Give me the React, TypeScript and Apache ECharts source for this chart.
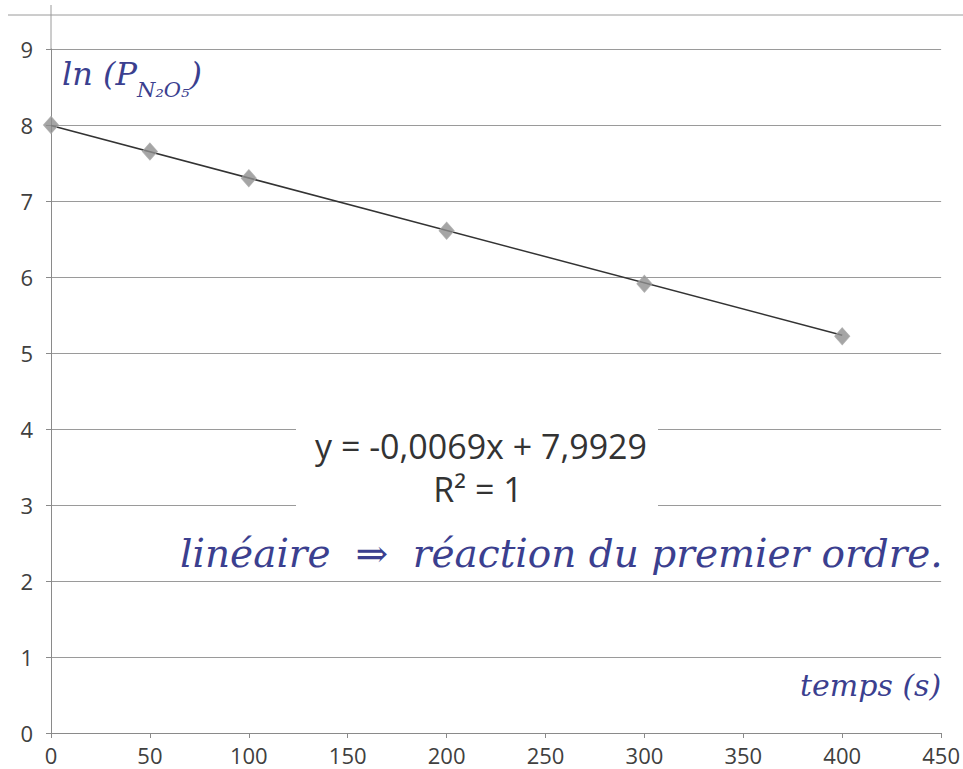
import React, { useEffect, useRef } from "react";
import * as echarts from "echarts";

const timeSeconds = [0, 50, 100, 200, 300, 400];
const lnPressure = [8.0, 7.65, 7.3, 6.61, 5.91, 5.22];
const trendX = [0, 400];
const trendY = [7.9929, 5.2329];
const xTicks = [0, 50, 100, 150, 200, 250, 300, 350, 400, 450];
const yTicks = [0, 1, 2, 3, 4, 5, 6, 7, 8, 9];
const equationText = "y = -0,0069x + 7,9929";
const r2Text = "R² = 1";
const yTitle = "ln (P";
const yTitleSub = "N₂O₅";
const noteText = "linéaire  ⇒  réaction du premier ordre.";
const xTitle = "temps (s)";

const INK = "#3b3f8f";
const HAND = "DejaVu Serif";
const SANS = "Open Sans";

export default function App() {
  const ref = useRef<HTMLDivElement>(null);
  useEffect(() => {
    const chart = echarts.init(ref.current!, null, { renderer: "svg" });
    chart.setOption({
      animation: false,
      backgroundColor: "#ffffff",
      grid: { left: 51, right: 18, top: 49, bottom: 36, containLabel: false },
      xAxis: {
        type: "value",
        min: xTicks[0],
        max: xTicks[xTicks.length - 1],
        interval: 50,
        axisLine: { show: true, lineStyle: { color: "#8a8a8a", width: 1 } },
        axisTick: { show: true, length: 5, lineStyle: { color: "#8a8a8a" } },
        axisLabel: { color: "#404040", fontSize: 22, fontFamily: SANS, margin: 11 },
        splitLine: { show: false },
      },
      yAxis: {
        type: "value",
        min: yTicks[0],
        max: yTicks[yTicks.length - 1],
        interval: 1,
        axisLine: { show: true, lineStyle: { color: "#8a8a8a", width: 1 } },
        axisTick: { show: true, length: 5, lineStyle: { color: "#8a8a8a" } },
        axisLabel: { color: "#404040", fontSize: 22, fontFamily: SANS, margin: 18 },
        splitLine: { show: true, lineStyle: { color: "#9a9a9a", width: 1 } },
      },
      series: [
        {
          type: "line",
          data: trendX.map((x, i) => [x, trendY[i]]),
          showSymbol: false,
          symbol: "none",
          lineStyle: { color: "#333", width: 1.5 },
          z: 2,
        },
        {
          type: "scatter",
          data: timeSeconds.map((x, i) => [x, lnPressure[i]]),
          symbol: "diamond",
          symbolSize: [15, 17],
          itemStyle: { color: "#8e8e8e", borderColor: "#a8a8a8", borderWidth: 1 },
          z: 3,
        },
      ],
      graphic: [
        { type: "line", shape: { x1: 8, y1: 15, x2: 963, y2: 15 }, style: { stroke: "#9a9a9a", lineWidth: 1 } },
        { type: "line", shape: { x1: 51, y1: 5, x2: 51, y2: 49 }, style: { stroke: "#9a9a9a", lineWidth: 1 } },
        {
          type: "rect",
          shape: { x: 296, y: 412, width: 362, height: 104 },
          style: { fill: "#ffffff" },
          z: 10,
        },
        {
          type: "text",
          x: 481, y: 446,
          style: { text: equationText, fill: "#333", fontSize: 34, fontFamily: SANS, align: "center", verticalAlign: "middle" },
          z: 11,
        },
        {
          type: "text",
          x: 478, y: 489,
          style: { text: r2Text, fill: "#333", fontSize: 34, fontFamily: SANS, align: "center", verticalAlign: "middle" },
          z: 11,
        },
        {
          type: "text",
          x: 62, y: 58,
          style: {
            text: `{a|${yTitle}}{s|${yTitleSub}}{a|)}`,
            rich: {
              a: { fontSize: 32, fontFamily: HAND, fontStyle: "italic", fill: INK, lineHeight: 42, verticalAlign: "top" },
              s: { fontSize: 21, fontFamily: HAND, fontStyle: "italic", fill: INK, lineHeight: 42, verticalAlign: "bottom", padding: [16, 0, 0, 0] },
            },
          },
          z: 11,
        },
        {
          type: "text",
          x: 180, y: 534,
          style: { text: noteText, fill: INK, fontSize: 39, fontStyle: "italic", fontFamily: HAND },
          z: 11,
        },
        {
          type: "text",
          x: 800, y: 670,
          style: { text: xTitle, fill: INK, fontSize: 30, fontStyle: "italic", fontFamily: HAND },
          z: 11,
        },
      ],
    });
    return () => chart.dispose();
  }, []);
  return <div ref={ref} style={{ position: "absolute", left: 0, top: 0, width: 963, height: 769 }} />;
}
